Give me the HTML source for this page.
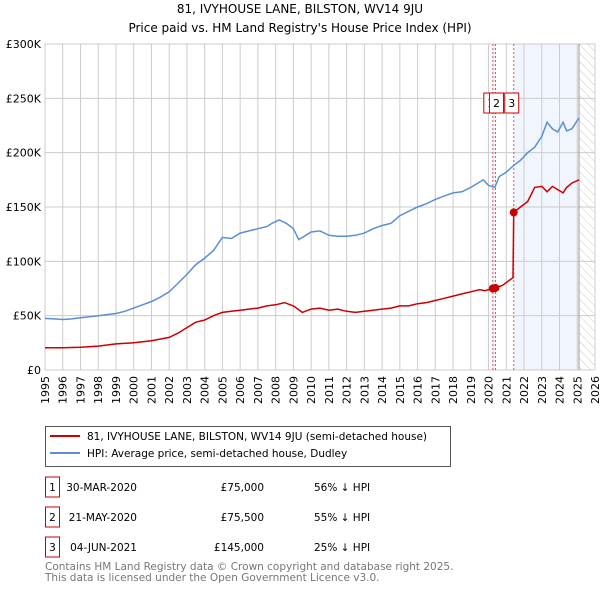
<!DOCTYPE html>
<html><head><meta charset="utf-8"><style>
body{margin:0;background:#fff;font-family:"Liberation Sans","DejaVu Sans",sans-serif;}
svg text{font-family:"DejaVu Sans","Liberation Sans",sans-serif;}
</style></head><body>
<svg width="600" height="590" viewBox="0 0 600 590">
<defs><pattern id="hatch" width="6" height="6" patternUnits="userSpaceOnUse" patternTransform="rotate(-45)"><line x1="0" y1="0" x2="0" y2="6" stroke="#ccc" stroke-width="1"/></pattern></defs>
<text x="300" y="13" text-anchor="middle" font-size="12">81, IVYHOUSE LANE, BILSTON, WV14 9JU</text>
<text x="300" y="32" text-anchor="middle" font-size="12">Price paid vs. HM Land Registry's House Price Index (HPI)</text>
<g id="plot"></g>
<g>
<rect x="45.5" y="426.5" width="405" height="40" fill="#fff" stroke="#555"/>
<line x1="50" y1="436" x2="80" y2="436" stroke="#cc0000" stroke-width="2"/>
<text x="87" y="440" font-size="10.5">81, IVYHOUSE LANE, BILSTON, WV14 9JU (semi-detached house)</text>
<line x1="50" y1="453" x2="80" y2="453" stroke="#5b8fd0" stroke-width="2"/>
<text x="87" y="457" font-size="10.5">HPI: Average price, semi-detached house, Dudley</text>
</g>
<g id="table" font-size="10.5"></g>
<text x="45" y="570" font-size="10.5" fill="#777">Contains HM Land Registry data © Crown copyright and database right 2025.</text>
<text x="45" y="581" font-size="10.5" fill="#777">This data is licensed under the Open Government Licence v3.0.</text>
</svg>
<script>
const hpiYears=[1995,1995.5,1996,1996.5,1997,1997.5,1998,1998.5,1999,1999.5,2000,2000.5,2001,2001.5,2002,2002.5,2003,2003.5,2004,2004.5,2005,2005.5,2006,2006.5,2007,2007.5,2007.8,2008.2,2008.6,2009,2009.3,2009.7,2010,2010.5,2011,2011.5,2012,2012.5,2013,2013.5,2014,2014.5,2015,2015.5,2016,2016.5,2017,2017.5,2018,2018.5,2019,2019.4,2019.7,2020,2020.35,2020.6,2021,2021.4,2021.8,2022.2,2022.6,2023,2023.3,2023.6,2023.9,2024.2,2024.4,2024.7,2025.1];
const hpiValues=[47.5,47,46.5,47,48,49,50,51,52,54,57,60,63,67,72,80,88,97,103,110,122,121,126,128,130,132,135,138,135,130,120,124,127,128,124,123,123,124,126,130,133,135,142,146,150,153,157,160,163,164,168,172,175,170,168,178,182,188,193,200,205,215,228,222,219,228,220,222,232];
const ppYears=[1995,1996,1997,1998,1999,2000,2001,2002,2002.5,2003,2003.5,2004,2004.5,2005,2005.5,2006,2006.5,2007,2007.5,2008,2008.5,2009,2009.5,2010,2010.5,2011,2011.5,2012,2012.5,2013,2013.5,2014,2014.5,2015,2015.5,2016,2016.5,2017,2017.5,2018,2018.5,2019,2019.5,2019.8,2020.24,2020.39,2020.8,2021.38,2021.42,2021.8,2022.2,2022.6,2023,2023.3,2023.6,2023.9,2024.2,2024.4,2024.7,2025.1];
const ppValues=[20.5,20.5,21,22,24,25,27,30,34,39,44,46,50,53,54,55,56,57,59,60,62,59,53,56,57,55,56,54,53,54,55,56,57,59,59,61,62,64,66,68,70,72,74,73,75,75.5,78,85,145,150,155,168,169,164,169,166,163,168,172,175];
const saleYears=[2020.24,2020.39,2021.42];
const saleValues=[75,75.5,145];
const saleLabels=["1","2","3"];
const saleDates=["30-MAR-2020","21-MAY-2020","04-JUN-2021"];
const salePrices=["£75,000","£75,500","£145,000"];
const saleDiffs=["56% ↓ HPI","55% ↓ HPI","25% ↓ HPI"];
const yTicks=[0,50,100,150,200,250,300];
const yTickLabels=["£0","£50K","£100K","£150K","£200K","£250K","£300K"];
const xTicks=[1995,1996,1997,1998,1999,2000,2001,2002,2003,2004,2005,2006,2007,2008,2009,2010,2011,2012,2013,2014,2015,2016,2017,2018,2019,2020,2021,2022,2023,2024,2025,2026];

const NS="http://www.w3.org/2000/svg";
const L=45,R=595,T=44,B=370;
const xs=y=>L+(y-1995)/(2026-1995)*(R-L);
const ys=v=>B-v/300*(B-T);
const plot=document.getElementById('plot');
function mk(tag,attrs,parent){const e=document.createElementNS(NS,tag);for(const k in attrs)e.setAttribute(k,attrs[k]);(parent||plot).appendChild(e);return e;}
// shaded
let sh=mk('rect',{x:xs(saleYears[2]),y:T,width:xs(2025.05)-xs(saleYears[2]),height:B-T,fill:'#eef3fc',opacity:0.8});


let sh2=mk('rect',{x:xs(saleYears[0]),y:T,width:xs(saleYears[1])-xs(saleYears[0]),height:B-T,fill:'#eef3fc'});


let ht=mk('rect',{x:xs(2025.1),y:T,width:R-xs(2025.1),height:B-T,fill:'url(#hatch)'});


// grid
xTicks.forEach(t=>{const g=mk('line',{x1:xs(t),x2:xs(t),y1:T,y2:B,stroke:'#ccc','stroke-width':1});


const tx=mk('text',{x:0,y:0,'font-size':11,'text-anchor':'end',transform:`translate(${xs(t)+4},${B+6}) rotate(-90)`});tx.textContent=t;

});
yTicks.forEach((t,i)=>{const g=mk('line',{x1:L,x2:R,y1:ys(t),y2:ys(t),stroke:'#ccc','stroke-width':1});


const tx=mk('text',{x:L-4,y:ys(t)+4,'font-size':11,'text-anchor':'end'});tx.textContent=yTickLabels[i];

});
mk('line',{x1:xs(2025.1),x2:xs(2025.1),y1:T,y2:B,stroke:'#999','stroke-width':1});
// sale lines
saleYears.forEach(s=>{const l=mk('line',{x1:xs(s),x2:xs(s),y1:T,y2:B,stroke:'#e05050','stroke-width':1,'stroke-dasharray':'2,2'});

});
function pts(xa,va){return xa.map((x,i)=>xs(x).toFixed(1)+','+ys(va[i]).toFixed(1)).join(' ');}
const hl=mk('polyline',{points:pts(hpiYears,hpiValues),fill:'none',stroke:'#5b8fd0','stroke-width':1.5});


const pl=mk('polyline',{points:pts(ppYears,ppValues),fill:'none',stroke:'#cc0000','stroke-width':1.5});


saleYears.forEach((s,i)=>{const c=mk('circle',{cx:xs(s),cy:ys(saleValues[i]),r:4,fill:'#cc0000'});

});
const boxX=[xs(saleYears[0])-9,xs(saleYears[1])-6,xs(saleYears[2])-9];
saleLabels.forEach((lb,i)=>{const g=mk('g',{});


mk('rect',{x:boxX[i],y:93,width:14,height:20,fill:'#fff',stroke:'#cc0000'},g);
const t=mk('text',{x:boxX[i]+7,y:107,'font-size':11,'text-anchor':'middle'},g);t.textContent=lb;});
// table
const tb=document.getElementById('table');
saleLabels.forEach((lb,i)=>{const y=491+i*30;const g=mk('g',{},tb);


mk('rect',{x:45.5,y:y-14,width:14,height:20,fill:'#fff',stroke:'#cc0000'},g);
let t=mk('text',{x:52.5,y:y,'text-anchor':'middle'},g);t.textContent=lb;
t=mk('text',{x:137,y:y,'text-anchor':'end'},g);t.textContent=saleDates[i];
t=mk('text',{x:264,y:y,'text-anchor':'end'},g);t.textContent=salePrices[i];
t=mk('text',{x:314,y:y},g);t.textContent=saleDiffs[i];});
</script>
</body></html>
